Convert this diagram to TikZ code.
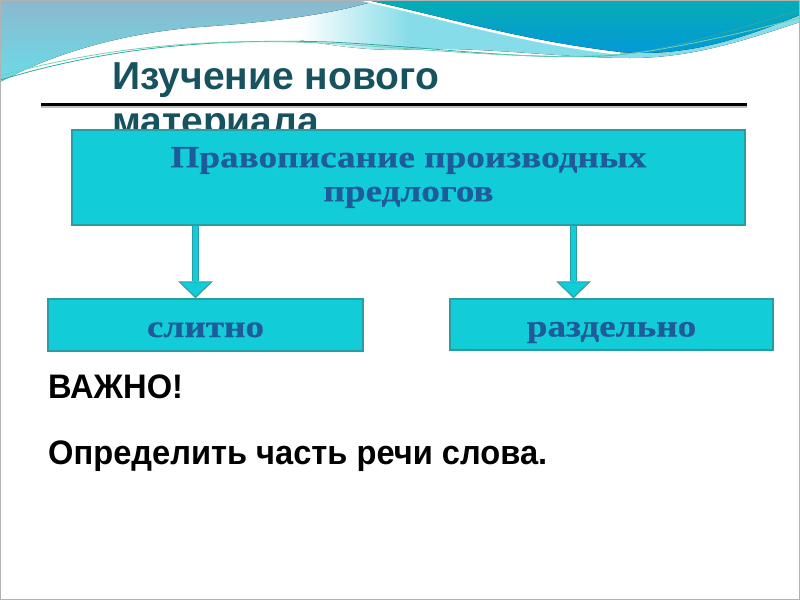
\documentclass[tikz,border=0pt]{standalone}
\usepackage{fontspec}
\setmainfont{Liberation Serif}
\setsansfont{Liberation Sans}
\newfontfamily\boxserif[FakeStretch=1.2,FakeBold=0.6]{Liberation Serif}
\newfontfamily\slidesans[FakeStretch=0.96]{Liberation Sans}
\usetikzlibrary{arrows.meta,positioning}
\definecolor{BoxCyan}{HTML}{12CDD8}
\definecolor{BoxEdge}{HTML}{2A9CA6}
\definecolor{BoxText}{HTML}{1D5B9B}
\definecolor{TitleTeal}{HTML}{17535F}
\definecolor{WaveTop}{HTML}{05ADB5}
\definecolor{WaveBlue}{HTML}{0497DA}
\definecolor{PaleTop}{HTML}{8BB8CE}
\definecolor{PaleLow}{HTML}{6ADCE8}
\definecolor{BandCyan}{HTML}{86DCE8}
\definecolor{LineTeal}{HTML}{2FA9A4}
\definecolor{LineGreen}{HTML}{74CFB4}
\pgfdeclarehorizontalshading{bandshade}{100bp}{color(0bp)=(white); color(25bp)=(white); color(36bp)=(BandCyan); color(100bp)=(BandCyan)}
\tikzset{box/.style={draw=BoxEdge,line width=1.5pt,fill=BoxCyan,align=center,inner sep=0pt,text=BoxText,font=\boxserif\bfseries\fontsize{31}{34}\selectfont},
  arr/.style={draw=BoxEdge,line width=7pt,-{Triangle[width=35pt,length=17pt,line width=0pt]},
    postaction={draw=BoxCyan,line width=4.5pt,shorten >=2pt,-{Triangle[width=30pt,length=14pt,line width=0pt]}}},
  slidetext/.style={inner sep=0pt,anchor=base west,align=left,font=\slidesans\bfseries\fontsize{34}{40}\selectfont}}

\begin{document}
\begin{tikzpicture}[x=1pt,y=-1pt]
\useasboundingbox (0,0) rectangle (800,600);
% header waves
\fill[shading=bandshade] (300,0) -- (800,0) -- (800,22) .. controls (740,42) and (690,58) .. (630,58)
  .. controls (560,58) and (470,45) .. (400,50) .. controls (360,50) and (330,45) .. (300,40) -- cycle;
\fill[top color=PaleTop,bottom color=PaleLow] (0,0) -- (378,0) .. controls (330,15) and (270,22) .. (200,27)
  .. controls (120,33) and (50,55) .. (0,82) -- cycle;
\draw[white,line width=6pt] (362,-2) .. controls (450,18) and (520,40) .. (620,52);
\fill[top color=WaveTop,bottom color=WaveBlue] (367,0) .. controls (450,18) and (520,40) .. (620,52)
  .. controls (690,58) and (750,35) .. (800,15) -- (800,0) -- cycle;
\draw[LineTeal,line width=0.8pt] (0,80) .. controls (100,50) and (200,38) .. (330,42)
  .. controls (450,48) and (560,65) .. (640,52) .. controls (700,42) and (760,22) .. (800,10);
\draw[LineGreen,line width=0.8pt] (0,76) .. controls (110,45) and (220,37) .. (340,44)
  .. controls (460,52) and (570,63) .. (650,51) .. controls (710,41) and (770,26) .. (800,18);
% title
\node[slidetext,text=TitleTeal,font=\sffamily\bfseries\fontsize{39}{45}\selectfont] (title) at (112,134) {Изучение нового\\материала};
\fill[gray!50] (41,105) rectangle (747,107.5);
\fill[black] (41,103) rectangle (747,105.5);
% scheme
\node[box,minimum width=673pt,minimum height=95pt] (topic) at (408.5,177.5) {Правописание производных\\предлогов};
\node[box,minimum width=315pt,minimum height=52pt,text height=25pt,text depth=1pt] (slitno) at (205.5,325) {слитно};
\node[box,minimum width=323pt,minimum height=51pt,text height=25pt,text depth=1pt] (razd) at (611.5,324.5) {раздельно};
\draw[arr] (topic.south -| 195.5,0) -- (slitno.north -| 195.5,0);
\draw[arr] (topic.south -| 573.5,0) -- (razd.north -| 573.5,0);
% note
\node[slidetext] (vazhno) at (48,398) {ВАЖНО!};
\node[slidetext] (rule) at (48,464) {Определить часть речи слова.};
\draw[gray!60,line width=1pt] (0.5,0.5) rectangle (799.5,599.5);
\end{tikzpicture}
\end{document}
